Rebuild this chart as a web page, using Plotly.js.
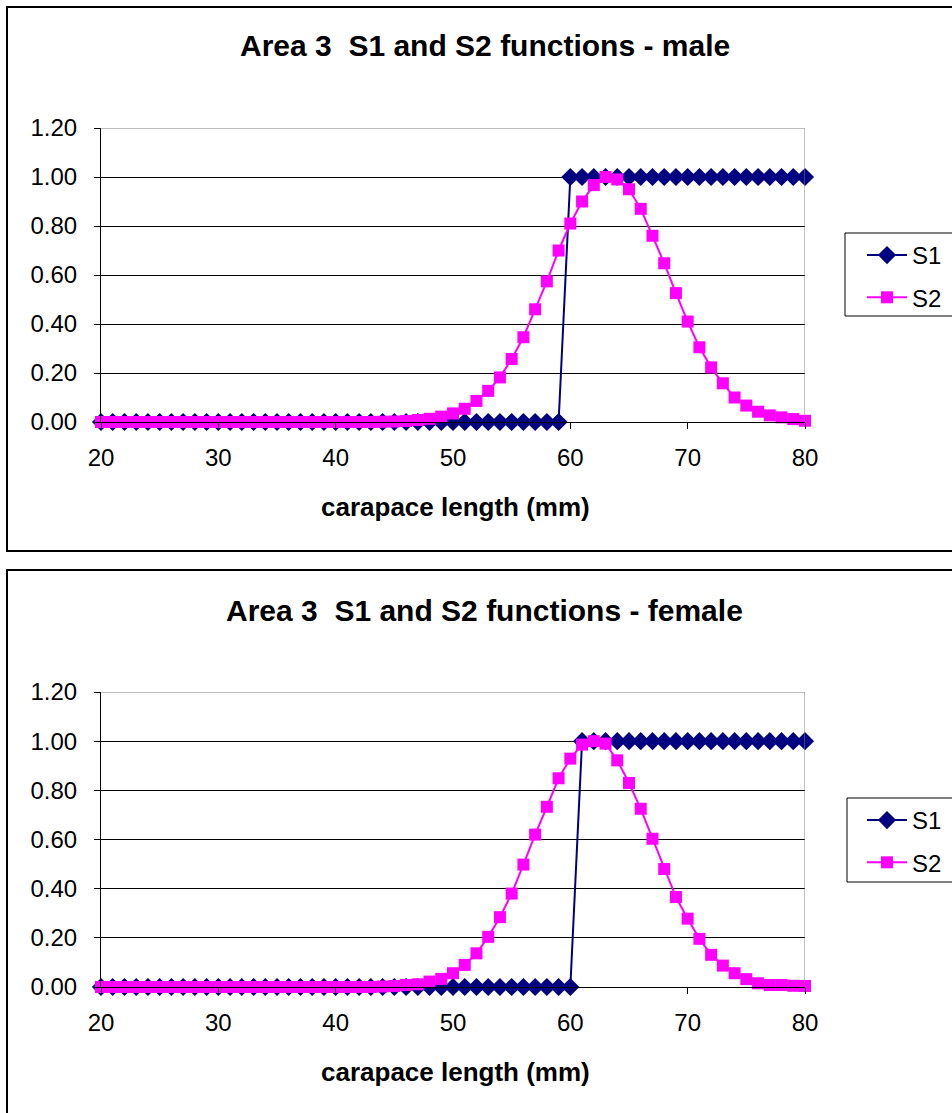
<!DOCTYPE html>
<html>
<head>
<meta charset="utf-8">
<script src="https://cdn.plot.ly/plotly-3.0.1.min.js"></script>
<style>html,body{margin:0;padding:0;background:#fff;}#chart{width:952px;height:1113px;}</style>
</head>
<body>
<div id="chart"></div>
<script>
// carapace length (mm)
var lengths = [20,21,22,23,24,25,26,27,28,29,30,31,32,33,34,35,36,37,38,39,40,41,42,43,44,45,46,47,48,49,50,51,52,53,54,55,56,57,58,59,60,61,62,63,64,65,66,67,68,69,70,71,72,73,74,75,76,77,78,79,80];

var s1Male = [0,0,0,0,0,0,0,0,0,0, 0,0,0,0,0,0,0,0,0,0, 0,0,0,0,0,0,0,0,0,0, 0,0,0,0,0,0,0,0,0,0, 1,1,1,1,1,1,1,1,1,1, 1,1,1,1,1,1,1,1,1,1, 1];
var s2Male = [0,0,0,0,0,0,0,0,0,0, 0,0,0,0,0,0,0,0,0,0, 0,0,0,0,0.001,0.002,0.004,0.008,0.013,0.022,
  0.035,0.054,0.086,0.127,0.182,0.257,0.346,0.46,0.574,0.70,
  0.81,0.90,0.967,1.00,0.99,0.95,0.87,0.76,0.648,0.526,
  0.41,0.305,0.223,0.158,0.10,0.067,0.042,0.027,0.019,0.012, 0.005];

var s1Female = [0,0,0,0,0,0,0,0,0,0, 0,0,0,0,0,0,0,0,0,0, 0,0,0,0,0,0,0,0,0,0, 0,0,0,0,0,0,0,0,0,0, 0,1,1,1,1,1,1,1,1,1, 1,1,1,1,1,1,1,1,1,1, 1];
var s2Female = [0,0,0,0,0,0,0,0,0,0, 0,0,0,0,0,0,0,0,0,0, 0,0,0,0,0.002,0.004,0.008,0.011,0.022,0.033,
  0.056,0.09,0.137,0.204,0.284,0.38,0.498,0.62,0.733,0.849,
  0.929,0.986,1.00,0.99,0.922,0.83,0.725,0.603,0.48,0.366,
  0.278,0.196,0.131,0.087,0.056,0.032,0.015,0.008,0.008,0.005, 0.004];

var seriesNames = ['S1', 'S2'];
var chartTitles = ['Area 3  S1 and S2 functions - male', 'Area 3  S1 and S2 functions - female'];
var xTitle = 'carapace length (mm)';

var W = 952, H = 1113;
function px(x){ return x / W; }
function py(y){ return 1 - y / H; }

var FONT = 'Liberation Sans, Arial, sans-serif';
var NAVY = '#000080', MAG = '#FF00FF';

function s1Trace(y, xa, ya, leg){
  return {x: lengths, y: y, xaxis: xa, yaxis: ya, name: seriesNames[0], legend: leg,
    legendgroup: leg + 'a', mode: 'lines+markers', cliponaxis: false,
    line: {color: NAVY, width: 2}, marker: {symbol: 'diamond', size: 14, color: NAVY}};
}
function s2Trace(y, xa, ya, leg){
  return {x: lengths, y: y, xaxis: xa, yaxis: ya, name: seriesNames[1], legend: leg,
    legendgroup: leg + 'b', mode: 'lines+markers', cliponaxis: false,
    line: {color: MAG, width: 2}, marker: {symbol: 'square', size: 12, color: MAG}};
}

var data = [
  s1Trace(s1Male, 'x', 'y', 'legend'),
  s2Trace(s2Male, 'x', 'y', 'legend'),
  s1Trace(s1Female, 'x2', 'y2', 'legend2'),
  s2Trace(s2Female, 'x2', 'y2', 'legend2')
];

function xAxis(anchor){
  return {domain: [px(101), px(805)], range: [20, 80], tick0: 20, dtick: 10, anchor: anchor,
    ticks: 'outside', ticklen: 6, tickcolor: '#000', showline: true, linecolor: '#000', linewidth: 1,
    showgrid: false, zeroline: false, tickfont: {family: FONT, size: 24, color: '#000'},
    ticklabelstandoff: 8, fixedrange: true};
}
function yAxis(anchor, top, bottom){
  return {domain: [py(bottom), py(top)], range: [0, 1.2], tick0: 0, dtick: 0.2, tickformat: '.2f', anchor: anchor,
    ticks: 'outside', ticklen: 6, tickcolor: '#000', showline: true, linecolor: '#000', linewidth: 1,
    showgrid: true, gridcolor: '#000', gridwidth: 1, zeroline: false,
    tickfont: {family: FONT, size: 24, color: '#000'}, ticklabelstandoff: 12, fixedrange: true};
}
function legendCfg(topPx){
  return {x: px(862), y: py(topPx), xanchor: 'left', yanchor: 'top', bgcolor: 'rgba(0,0,0,0)',
    borderwidth: 0, font: {family: FONT, size: 24, color: '#000'}, traceorder: 'grouped',
    tracegroupgap: 8, itemwidth: 40};
}

var shapes = [];
// outer chart frames
shapes.push({type: 'rect', xref: 'paper', yref: 'paper', x0: px(7), x1: px(1000), y0: py(551), y1: py(7), line: {color: '#000', width: 2}, layer: 'below'});
shapes.push({type: 'rect', xref: 'paper', yref: 'paper', x0: px(7), x1: px(1000), y0: py(1140), y1: py(570), line: {color: '#000', width: 2}, layer: 'below'});
// plot-area grey borders (top and right)
[['x','y'],['x2','y2']].forEach(function(p){
  shapes.push({type: 'line', xref: p[0], yref: p[1], x0: 20, x1: 80, y0: 1.2, y1: 1.2, line: {color: '#808080', width: 1}, layer: 'above'});
  shapes.push({type: 'line', xref: p[0], yref: p[1], x0: 80, x1: 80, y0: 0, y1: 1.2, line: {color: '#808080', width: 1}, layer: 'above'});
});
// legend boxes
shapes.push({type: 'rect', xref: 'paper', yref: 'paper', x0: px(845), x1: px(1000), y0: py(316), y1: py(233), line: {color: '#000', width: 1}, fillcolor: 'rgba(0,0,0,0)'});
shapes.push({type: 'rect', xref: 'paper', yref: 'paper', x0: px(847), x1: px(1000), y0: py(882), y1: py(798), line: {color: '#000', width: 1}, fillcolor: 'rgba(0,0,0,0)'});

var annotations = [
  {text: '<b>' + chartTitles[0] + '</b>', xref: 'paper', yref: 'paper', x: px(485), y: py(45), showarrow: false, xanchor: 'center', yanchor: 'middle', font: {family: FONT, size: 30, color: '#000'}},
  {text: '<b>' + chartTitles[1] + '</b>', xref: 'paper', yref: 'paper', x: px(485), y: py(610), showarrow: false, xanchor: 'center', yanchor: 'middle', font: {family: FONT, size: 30, color: '#000'}},
  {text: '<b>' + xTitle + '</b>', xref: 'paper', yref: 'paper', x: px(455), y: py(507), showarrow: false, xanchor: 'center', yanchor: 'middle', font: {family: FONT, size: 26, color: '#000'}},
  {text: '<b>' + xTitle + '</b>', xref: 'paper', yref: 'paper', x: px(455), y: py(1072), showarrow: false, xanchor: 'center', yanchor: 'middle', font: {family: FONT, size: 26, color: '#000'}}
];

var layout = {
  width: W, height: H, margin: {l: 0, r: 0, t: 0, b: 0},
  paper_bgcolor: '#fff', plot_bgcolor: '#fff',
  showlegend: true,
  xaxis: xAxis('y'), yaxis: yAxis('x', 128, 422),
  xaxis2: xAxis('y2'), yaxis2: yAxis('x2', 692, 987),
  legend: legendCfg(233), legend2: legendCfg(798),
  shapes: shapes, annotations: annotations
};

Plotly.newPlot('chart', data, layout, {displayModeBar: false, staticPlot: true});
</script>
</body>
</html>
